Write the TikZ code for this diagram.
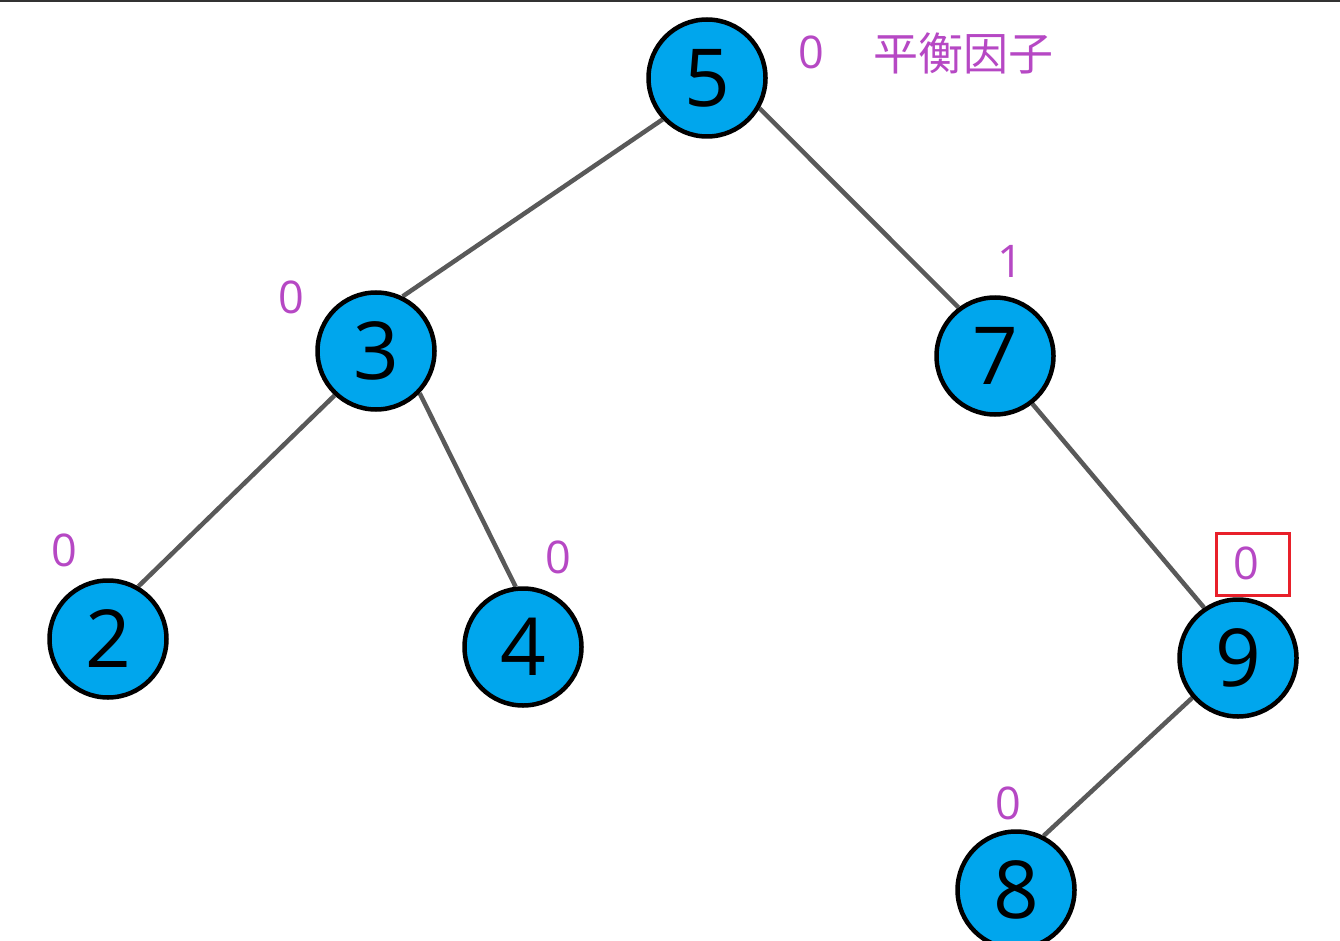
\documentclass[tikz,border=0pt]{standalone}
\usepackage{fontspec}
\setmainfont{Open Sans}
\newfontfamily\cjkfont{Noto Sans CJK SC}
\usetikzlibrary{backgrounds}
\definecolor{nodeblue}{RGB}{0,166,237}
\definecolor{bfpurple}{RGB}{182,72,196}
\definecolor{edgegray}{RGB}{89,89,89}
\definecolor{boxred}{RGB}{232,32,42}
\begin{document}
\begin{tikzpicture}[x=1pt,y=-1pt,
  treenode/.style={circle,draw=black,line width=4.5pt,fill=nodeblue,minimum size=117pt,inner sep=0pt,
    font=\fontsize{80}{80}\selectfont},
  bflabel/.style={text=bfpurple,inner sep=0pt,font=\fontsize{45}{45}\selectfont},
  edge/.style={draw=edgegray,line width=4.5pt}]
\useasboundingbox (0,0) rectangle (1340,941);
\draw[line width=2.5pt,draw=black!80] (0,1) -- (1340,1);
\node[treenode] (n5) at (707,78) {5};
\node[treenode] (n3) at (376,351) {3};
\node[treenode] (n7) at (995,356) {7};
\node[treenode] (n2) at (108,639) {2};
\node[treenode] (n4) at (523,647) {4};
\node[treenode] (n9) at (1238,658) {9};
\node[treenode] (n8) at (1016,890) {8};
\begin{scope}[on background layer]
\path[edge] (n5.223) -- (n3.64);
\path[edge] (n5.330) -- (n7.127);
\path[edge] (n3.227) -- (n2.60);
\path[edge] (n3.316) -- (n4.97);
\path[edge] (n7.308) -- (n9.124);
\path[edge] (n9.221) -- (n8.63);
\end{scope}
\node[bflabel] (b5) at (811,52) {0};
\node[bflabel,font=\cjkfont\fontsize{45}{45}\selectfont] (title) at (963,53) {平衡因子};
\node[bflabel] (b7) at (1010,261) {1};
\node[bflabel] (b3) at (291,297) {0};
\node[bflabel] (b2) at (64,550) {0};
\node[bflabel] (b4) at (558,557) {0};
\node[bflabel] (b9) at (1246,563) {0};
\node[bflabel] (b8) at (1008,803) {0};
\node[draw=boxred,line width=3.5pt,minimum width=73pt,minimum height=62pt,inner sep=0pt] (redbox) at (1253,564.5) {};
\end{tikzpicture}
\end{document}
